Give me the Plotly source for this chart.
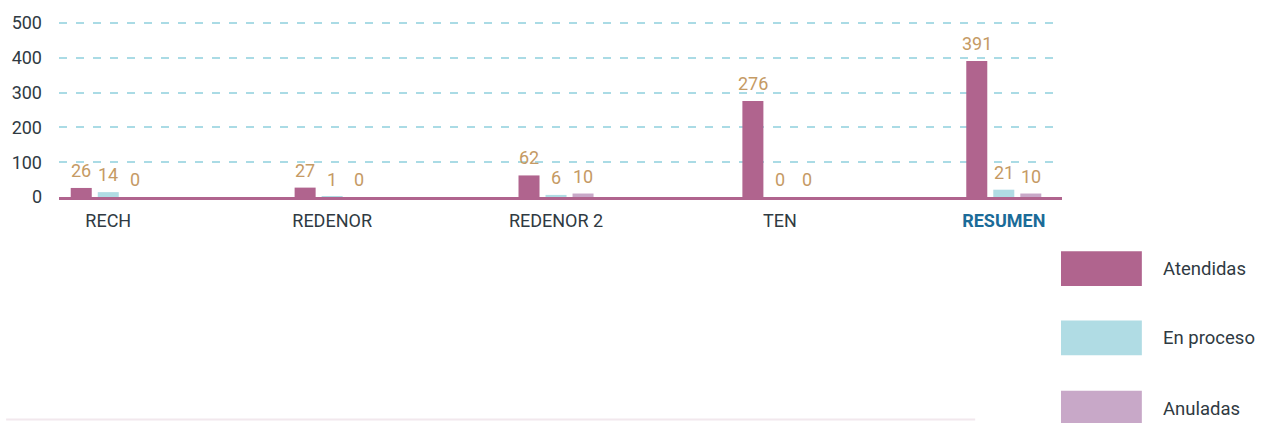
import plotly.graph_objects as go

# Request counts per company
categories = ["RECH", "REDENOR", "REDENOR 2", "TEN", "RESUMEN"]
atendidas = [26, 27, 62, 276, 391]
en_proceso = [14, 1, 6, 0, 21]
anuladas = [0, 0, 10, 0, 10]

series_names = ["Atendidas", "En proceso", "Anuladas"]
series_values = [atendidas, en_proceso, anuladas]
series_colors = ["#b0648e", "#b0dce4", "#c8a8c8"]

y_ticks = [0, 100, 200, 300, 400, 500]

W, H = 1269, 423
Y_ZERO_PX, Y_TOP_PX = 197, 21          # pixel rows of 0 and 500
Y_MAX = 503                            # small headroom so the 500 grid line shows
PX_PER_UNIT = (Y_ZERO_PX - Y_TOP_PX) / 500
ML, MR = 57, 207
MB = H - Y_ZERO_PX
MT = Y_ZERO_PX - Y_MAX * PX_PER_UNIT
PW = W - ML - MR
PH = H - MT - MB

X_RANGE = [-0.22, 4.26]
BARGAP, BARGROUPGAP = 0.638, 0.222
CAT_PX = PW / (X_RANGE[1] - X_RANGE[0])
SLOT_PX = (1 - BARGAP) * CAT_PX / len(series_names)

FONT = "Roboto"
TEXT_DARK = "#2f3a42"
LABEL_COLOR = "#c59a64"
HIGHLIGHT = "#1b6b98"


def paper_x(px):
    return (px - ML) / PW


def paper_y(py):
    return (H - MB - py) / PH


fig = go.Figure()
for i, (name, vals, color) in enumerate(zip(series_names, series_values, series_colors)):
    fig.add_trace(go.Bar(
        name=name,
        x=categories,
        y=vals,
        marker=dict(color=color, line=dict(width=0)),
        showlegend=False,
        hoverinfo="x+y+name",
    ))
    # value labels above each bar of this series
    shift = (i - (len(series_names) - 1) / 2) * SLOT_PX
    for cat, v in zip(categories, vals):
        fig.add_annotation(
            x=cat, y=v, xref="x", yref="y",
            text=str(v), showarrow=False,
            xanchor="center", yanchor="bottom",
            xshift=shift, yshift=5,
            font=dict(family=FONT, size=18, color=LABEL_COLOR),
        )

tick_text = [c if c != "RESUMEN" else
             f"<b><span style='color:{HIGHLIGHT}'>{c}</span></b>" for c in categories]

fig.update_layout(
    width=W, height=H,
    margin=dict(l=ML, r=MR, t=MT, b=MB, pad=0),
    paper_bgcolor="white",
    plot_bgcolor="white",
    barmode="group",
    bargap=BARGAP,
    bargroupgap=BARGROUPGAP,
    font=dict(family=FONT, size=18, color=TEXT_DARK),
    xaxis=dict(
        type="category",
        range=X_RANGE,
        tickvals=categories,
        ticktext=tick_text,
        showline=True,
        linecolor="#b0648e",
        linewidth=3,
        showgrid=False,
        ticks="",
        ticklabelstandoff=5,
        tickfont=dict(family=FONT, size=18, color=TEXT_DARK),
        fixedrange=True,
    ),
    yaxis=dict(
        range=[0, Y_MAX],
        tickvals=y_ticks,
        showline=False,
        zeroline=False,
        showgrid=True,
        gridcolor="#aadbe5",
        gridwidth=1.5,
        griddash="8px,9px",
        ticks="",
        ticklabelstandoff=16,
        tickfont=dict(family=FONT, size=18, color=TEXT_DARK),
        fixedrange=True,
    ),
)

# Legend drawn as large swatches to the right of the plot
legend_tops = [252, 322, 393]
for name, color, top in zip(series_names, series_colors, legend_tops):
    fig.add_shape(
        type="rect", xref="paper", yref="paper",
        x0=paper_x(1061), x1=paper_x(1142),
        y0=paper_y(top), y1=paper_y(top + 35),
        fillcolor=color, line=dict(width=0), layer="above",
    )
    fig.add_annotation(
        xref="paper", yref="paper",
        x=paper_x(1161), y=paper_y(top + 18),
        xanchor="left", yanchor="middle",
        text=name, showarrow=False,
        font=dict(family=FONT, size=18.5, color=TEXT_DARK),
    )

# Faint divider along the bottom edge
fig.add_shape(
    type="line", xref="paper", yref="paper",
    x0=paper_x(4), x1=paper_x(975),
    y0=paper_y(422), y1=paper_y(422),
    line=dict(color="#f2e8ed", width=2),
)

fig.write_html("out.html")
